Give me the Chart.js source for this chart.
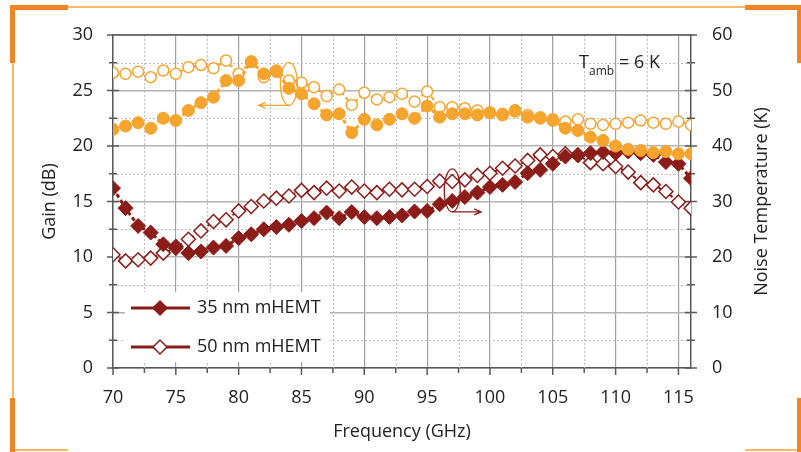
<!DOCTYPE html>
<html>
<head>
<meta charset="utf-8">
<script src="https://cdn.jsdelivr.net/npm/chart.js@4.4.1/dist/chart.umd.min.js"></script>
<style>
  body { margin: 0; background: #fff; }
  #wrap { position: relative; width: 801px; height: 452px; }
  .fr { position: absolute; }
  .thick { background: #f28422; }
  .thin { background: #f9b863; }
</style>
</head>
<body>
<div id="wrap">
  <canvas id="chart" width="801" height="452"></canvas>
  <!-- orange corner frame -->
  <div class="fr thin" style="left:68px;top:6px;width:677px;height:2px"></div>
  <div class="fr thin" style="left:12px;top:63px;width:1.5px;height:335px"></div>
  <div class="fr thin" style="left:15px;top:449px;width:53px;height:2px"></div>
  <div class="fr thin" style="left:745px;top:449px;width:52px;height:2px"></div>
  <div class="fr thick" style="left:10px;top:5px;width:58px;height:5px"></div>
  <div class="fr thick" style="left:10px;top:5px;width:5px;height:58px"></div>
  <div class="fr thick" style="left:745px;top:5px;width:56px;height:5px"></div>
  <div class="fr thick" style="left:797px;top:5px;width:4px;height:58px"></div>
  <div class="fr thick" style="left:10px;top:398px;width:5px;height:54px"></div>
  <div class="fr thick" style="left:797px;top:398px;width:4px;height:54px"></div>
</div>
<script>
// frequency points (GHz)
const freq = [70, 71, 72, 73, 74, 75, 76, 77, 78, 79, 80, 81, 82, 83, 84, 85, 86, 87, 88, 89,
  90, 91, 92, 93, 94, 95, 96, 97, 98, 99, 100, 101, 102, 103, 104, 105, 106, 107, 108, 109,
  110, 111, 112, 113, 114, 115, 116];

// gain (dB), left axis
const gain35 = [21.5, 21.8, 22.1, 21.6, 22.5, 22.3, 23.2, 23.9, 24.4, 25.9, 25.9, 27.6, 26.5, 26.7, 25.2, 24.7, 23.8, 22.8, 22.9, 21.2,
  22.4, 21.9, 22.4, 22.9, 22.5, 23.6, 22.6, 22.9, 22.9, 22.8, 23.0, 22.8, 23.2, 22.6, 22.5, 22.3, 21.6, 21.4, 20.8, 20.5,
  20.0, 19.7, 19.6, 19.4, 19.5, 19.3, 19.3];
const gain50 = [26.6, 26.5, 26.7, 26.2, 26.8, 26.5, 27.1, 27.3, 27.0, 27.7, 26.5, 27.6, 26.2, 26.8, 25.9, 25.7, 25.3, 24.5, 25.1, 23.7,
  24.8, 24.2, 24.4, 24.7, 24.0, 24.9, 23.5, 23.5, 23.4, 23.2, 23.0, 22.9, 23.1, 22.8, 22.6, 22.4, 22.2, 22.4, 22.0, 21.9,
  22.0, 22.1, 22.3, 22.1, 22.0, 22.2, 21.9];

// noise temperature (K), right axis
const noise35 = [32.4, 28.8, 25.6, 24.4, 22.3, 21.9, 20.7, 21.0, 21.7, 22.0, 23.4, 24.1, 25.0, 25.4, 25.8, 26.5, 27.0, 28.0, 27.0, 28.1,
  27.2, 27.0, 27.2, 27.5, 28.2, 28.3, 29.5, 30.1, 30.8, 31.6, 32.6, 33.0, 33.5, 35.1, 35.7, 36.8, 38.1, 38.3, 38.7, 38.9,
  38.7, 39.0, 38.7, 38.4, 37.1, 36.8, 34.2];
const noise50 = [20.4, 19.3, 19.5, 19.8, 20.7, 21.6, 23.2, 24.7, 26.4, 26.7, 28.3, 29.1, 30.1, 30.6, 31.0, 32.0, 31.6, 32.4, 31.9, 32.6,
  31.9, 31.6, 32.2, 32.1, 32.2, 32.7, 33.7, 33.6, 33.9, 34.7, 35.1, 36.0, 36.4, 37.4, 38.4, 38.1, 38.6, 38.4, 37.0, 36.8,
  36.3, 35.3, 33.4, 33.0, 31.8, 29.9, 28.8];

// ticks
const freqTicks = [70, 75, 80, 85, 90, 95, 100, 105, 110, 115];
const gainTicks = [0, 5, 10, 15, 20, 25, 30];
const noiseTicks = [0, 10, 20, 30, 40, 50, 60];

const legendLabels = ['35 nm mHEMT', '50 nm mHEMT'];

const ORANGE = '#f5a42e';
const RED = '#8b1c18';
const AXIS = '#595959';
const FONT = 'Open Sans';

function pts(ys) {
  return freq.map((f, i) => ({ x: f, y: ys[i] }));
}

const decor = {
  id: 'decor',
  beforeDatasetsDraw(chart) {
    const { ctx, chartArea: a } = chart;
    const x = chart.scales.x, y = chart.scales.y, y2 = chart.scales.y2;
    ctx.save();
    // minor dotted grid
    ctx.strokeStyle = '#bdbdbd';
    ctx.lineWidth = 1;
    ctx.setLineDash([2, 2]);
    ctx.beginPath();
    for (let v = 72.5; v < 116; v += 5) {
      const px = Math.round(x.getPixelForValue(v)) + 0.5;
      ctx.moveTo(px, a.top); ctx.lineTo(px, a.bottom);
    }
    for (let v = 2.5; v < 30; v += 5) {
      const py = Math.round(y.getPixelForValue(v)) + 0.5;
      ctx.moveTo(a.left, py); ctx.lineTo(a.right, py);
    }
    ctx.stroke();
    ctx.setLineDash([]);

    // frame top
    ctx.strokeStyle = AXIS;
    ctx.lineWidth = 1.5;
    ctx.beginPath();
    ctx.moveTo(a.left, a.top); ctx.lineTo(a.right, a.top);
    // tick marks
    for (let v = 70; v <= 115; v += 2.5) {
      const px = x.getPixelForValue(v);
      const len = v % 5 === 0 ? 7 : 5;
      ctx.moveTo(px, a.bottom); ctx.lineTo(px, a.bottom + len);
    }
    for (let v = 0; v <= 30; v += 2.5) {
      const py = y.getPixelForValue(v);
      const len = v % 5 === 0 ? 6 : 4;
      ctx.moveTo(a.left - len, py); ctx.lineTo(a.left + len, py);
    }
    for (let v = 0; v <= 60; v += 5) {
      const py = y2.getPixelForValue(v);
      const len = v % 10 === 0 ? 6 : 4;
      ctx.moveTo(a.right - len, py); ctx.lineTo(a.right + len, py);
    }
    ctx.stroke();

    // legend box background
    ctx.fillStyle = '#fff';
    ctx.fillRect(125, 292, 205, 70);

    // right axis title, reading upwards like the left one
    ctx.fillStyle = '#222';
    ctx.font = '18px "' + FONT + '"';
    ctx.textAlign = 'center';
    ctx.textBaseline = 'middle';
    ctx.translate(762, (a.top + a.bottom) / 2);
    ctx.rotate(-Math.PI / 2);
    ctx.fillText('Noise Temperature (K)', 0, 0);
    ctx.restore();
  },
  afterDatasetsDraw(chart) {
    const { ctx } = chart;
    const x = chart.scales.x, y = chart.scales.y, y2 = chart.scales.y2;
    ctx.save();

    // legend
    const rows = [
      { ds: chart.data.datasets[2], ly: 308 },
      { ds: chart.data.datasets[3], ly: 347 }
    ];
    rows.forEach((r, i) => {
      ctx.strokeStyle = RED;
      ctx.lineWidth = 3;
      ctx.beginPath();
      ctx.moveTo(131, r.ly); ctx.lineTo(190, r.ly);
      ctx.stroke();
      ctx.fillStyle = r.ds.pointBackgroundColor;
      ctx.strokeStyle = RED;
      ctx.lineWidth = 1.5;
      Chart.helpers.drawPoint(ctx, { pointStyle: 'rectRot', radius: 7, borderWidth: 1.5 }, 160, r.ly);
      ctx.fillStyle = '#222';
      ctx.font = '18px "' + FONT + '"';
      ctx.textBaseline = 'middle';
      ctx.textAlign = 'left';
      ctx.fillText(legendLabels[i], 197, r.ly);
    });

    // gain marker ellipse + arrow (left)
    ctx.lineWidth = 1.3;
    ctx.strokeStyle = ORANGE;
    let cx = x.getPixelForValue(84), cy = y.getPixelForValue(25.6);
    ctx.beginPath();
    ctx.ellipse(cx, cy, 8.5, 21.5, 0, 0, Math.PI * 2);
    ctx.stroke();
    let ay = cy + 21.5, ax = x.getPixelForValue(81.6);
    ctx.beginPath();
    ctx.moveTo(cx, ay); ctx.lineTo(ax, ay);
    ctx.moveTo(ax + 7, ay - 3); ctx.lineTo(ax, ay); ctx.lineTo(ax + 7, ay + 3);
    ctx.stroke();

    // noise marker ellipse + arrow (right)
    ctx.strokeStyle = RED;
    cx = x.getPixelForValue(97); cy = y2.getPixelForValue(32);
    ctx.beginPath();
    ctx.ellipse(cx, cy, 8, 21.5, 0, 0, Math.PI * 2);
    ctx.stroke();
    ay = cy + 21.5; ax = x.getPixelForValue(99.3);
    ctx.beginPath();
    ctx.moveTo(cx, ay); ctx.lineTo(ax, ay);
    ctx.moveTo(ax - 7, ay - 3); ctx.lineTo(ax, ay); ctx.lineTo(ax - 7, ay + 3);
    ctx.stroke();

    // ambient temperature note
    ctx.fillStyle = '#222';
    ctx.textBaseline = 'alphabetic';
    ctx.textAlign = 'left';
    ctx.font = '18px "' + FONT + '"';
    ctx.fillText('T', 579, 68);
    ctx.font = '12px "' + FONT + '"';
    ctx.fillText('amb', 589, 75);
    ctx.font = '18px "' + FONT + '"';
    ctx.fillText('= 6 K', 619, 68);
    ctx.restore();
  }
};

const tickFont = { family: FONT, size: 18 };
const titleFont = { family: FONT, size: 18, lineHeight: 1.2 };

new Chart(document.getElementById('chart'), {
  type: 'line',
  data: {
    datasets: [
      {
        label: 'Gain 35 nm', data: pts(gain35), yAxisID: 'y', order: 0,
        borderColor: ORANGE, backgroundColor: ORANGE, borderWidth: 3, borderDash: [4, 3],
        pointStyle: 'circle', pointRadius: 6, pointBackgroundColor: ORANGE,
        pointBorderColor: ORANGE, pointBorderWidth: 1
      },
      {
        label: 'Gain 50 nm', data: pts(gain50), yAxisID: 'y', order: 1,
        borderColor: ORANGE, backgroundColor: '#fff', borderWidth: 2, borderDash: [4, 3],
        pointStyle: 'circle', pointRadius: 5.5, pointBackgroundColor: '#fff',
        pointBorderColor: ORANGE, pointBorderWidth: 1.5
      },
      {
        label: legendLabels[0], data: pts(noise35), yAxisID: 'y2', order: 2,
        borderColor: RED, backgroundColor: RED, borderWidth: 3, borderDash: [4, 3],
        pointStyle: 'rectRot', pointRadius: 7.5, pointBackgroundColor: RED,
        pointBorderColor: RED, pointBorderWidth: 1
      },
      {
        label: legendLabels[1], data: pts(noise50), yAxisID: 'y2', order: 3,
        borderColor: RED, backgroundColor: '#fff', borderWidth: 2, borderDash: [4, 3],
        pointStyle: 'rectRot', pointRadius: 7, pointBackgroundColor: '#fff',
        pointBorderColor: RED, pointBorderWidth: 1.5
      }
    ]
  },
  options: {
    responsive: false,
    animation: false,
    layout: { padding: { top: 35, left: 0, right: 0, bottom: 0 } },
    plugins: { legend: { display: false }, tooltip: { enabled: false } },
    scales: {
      x: {
        type: 'linear', position: 'bottom', min: 70, max: 116,
        afterBuildTicks: s => { s.ticks = freqTicks.map(v => ({ value: v })); },
        afterFit: s => { s.height = 84; },
        grid: { color: '#a0a0a0', lineWidth: 1.2, drawTicks: false },
        border: { color: AXIS, width: 1.5 },
        ticks: { padding: 19, color: '#222', font: tickFont, maxRotation: 0, callback: v => String(v) },
        title: { display: true, text: 'Frequency (GHz)', color: '#222', font: titleFont, padding: { top: 0, bottom: 9 } }
      },
      y: {
        type: 'linear', position: 'left', min: 0, max: 30,
        afterBuildTicks: s => { s.ticks = gainTicks.map(v => ({ value: v })); },
        afterFit: s => { s.width = 113; },
        grid: { color: '#b4b4b4', lineWidth: 1.5, drawTicks: false },
        border: { color: AXIS, width: 1.5 },
        ticks: { padding: 20, color: '#222', font: tickFont, callback: v => String(v) },
        title: { display: true, text: 'Gain (dB)', color: '#222', font: titleFont, padding: { top: 39, bottom: 0 } }
      },
      y2: {
        type: 'linear', position: 'right', min: 0, max: 60,
        afterBuildTicks: s => { s.ticks = noiseTicks.map(v => ({ value: v })); },
        afterFit: s => { s.width = 110; },
        grid: { drawOnChartArea: false, drawTicks: false },
        border: { color: AXIS, width: 1.5 },
        ticks: { padding: 21, color: '#222', font: tickFont, callback: v => String(v) }
      }
    }
  },
  plugins: [decor]
});
</script>
</body>
</html>
